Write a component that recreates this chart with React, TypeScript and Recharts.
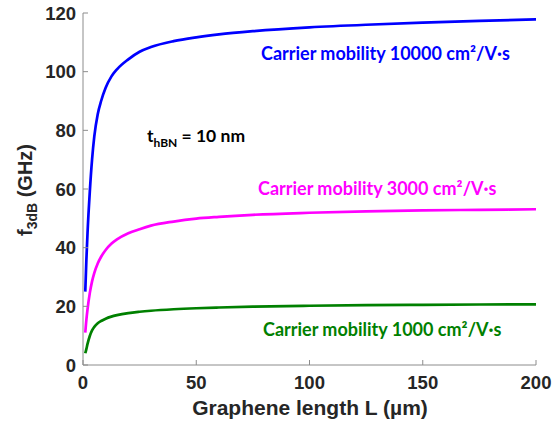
import { Line, LineChart, XAxis, YAxis } from "recharts"

// graphene length L (µm)
const lengths = [1, 1.5, 2, 3, 4, 5, 6.5, 8, 10, 12.5, 15, 20, 25, 30, 40, 50, 60, 75, 100, 125, 150, 175, 200]
// f3dB (GHz) for each carrier mobility
const mu10000 = [25, 36, 45, 59, 70, 78, 85.5, 90, 94.5, 98.3, 100.8, 104.2, 106.8, 108.4, 110.4, 111.7, 112.7, 113.8, 115.1, 116, 116.7, 117.3, 117.8]
const mu3000 = [11, 15.5, 19, 24.5, 28.5, 31.4, 34.6, 36.9, 39.2, 41.3, 42.8, 44.9, 46.3, 47.5, 48.9, 49.9, 50.5, 51.2, 51.9, 52.4, 52.7, 52.9, 53.1]
const mu1000 = [4, 5.5, 7.2, 9.9, 11.8, 13, 14.2, 15, 15.8, 16.5, 17, 17.7, 18.15, 18.5, 19, 19.35, 19.6, 19.9, 20.2, 20.4, 20.52, 20.62, 20.7]

const xTicks = [0, 50, 100, 150, 200]
const yTicks = [0, 20, 40, 60, 80, 100, 120]

const data = lengths.map((L, i) => ({ L, a: mu10000[i], b: mu3000[i], c: mu1000[i] }))

const AXIS = "#8c8c8c"
const INK = "#262626"
const ARIAL = { fontFamily: "'Liberation Sans', sans-serif", fontWeight: 700 }
const M = 8
const T = 5

const BottomTick = (p: any) => {
  const base = p.y - M
  return (
    <g>
      <line x1={p.x} x2={p.x} y1={base} y2={base - T} stroke={AXIS} />
      <text x={p.x} y={base + 24} textAnchor="middle" fill={INK} fontSize={18.5} style={ARIAL}>
        {p.payload.value}
      </text>
    </g>
  )
}

const LeftTick = (p: any) => {
  const base = p.x + M
  return (
    <g>
      <line x1={base} x2={base + T} y1={p.y} y2={p.y} stroke={AXIS} />
      <text x={base - 7} y={p.y + 6.5} textAnchor="end" fill={INK} fontSize={18.5} style={ARIAL}>
        {p.payload.value}
      </text>
    </g>
  )
}

const TopTick = (p: any) => {
  const base = p.y + M
  return <line x1={p.x} x2={p.x} y1={base} y2={base + T} stroke={AXIS} />
}

const RightTick = (p: any) => {
  const base = p.x - M
  return <line x1={base} x2={base - T} y1={p.y} y2={p.y} stroke={AXIS} />
}

export default function App() {
  return (
    <div style={{ position: "fixed", left: 0, top: 0, width: 553, height: 426, background: "#fff" }}>
      <LineChart width={553} height={426} data={data} margin={{ top: 13, right: 17, left: 0, bottom: 0 }}>
        <XAxis dataKey="L" type="number" domain={[0, 200]} ticks={xTicks} height={61} tickSize={0} tickMargin={M}
          tickLine={false} stroke={AXIS} tick={<BottomTick />} interval={0} />
        <XAxis xAxisId="top" orientation="top" type="number" domain={[0, 200]} ticks={xTicks} height={0}
          tickSize={0} tickMargin={M} tickLine={false} stroke={AXIS} tick={<TopTick />} allowDataOverflow interval={0} />
        <YAxis type="number" domain={[0, 120]} ticks={yTicks} width={83} tickSize={0} tickMargin={M}
          tickLine={false} stroke={AXIS} tick={<LeftTick />} interval={0} />
        <YAxis yAxisId="right" orientation="right" type="number" domain={[0, 120]} ticks={yTicks} width={0}
          tickSize={0} tickMargin={M} tickLine={false} stroke={AXIS} tick={<RightTick />} allowDataOverflow interval={0} />
        <Line type="monotone" dataKey="a" stroke="#0000ff" strokeWidth={2.7} dot={false} isAnimationActive={false} />
        <Line type="monotone" dataKey="b" stroke="#ff00ff" strokeWidth={2.7} dot={false} isAnimationActive={false} />
        <Line type="monotone" dataKey="c" stroke="#008000" strokeWidth={2.7} dot={false} isAnimationActive={false} />
      </LineChart>
      <svg width={553} height={426} style={{ position: "absolute", left: 0, top: 0, pointerEvents: "none" }}>
        <g style={{ fontFamily: "Lato, sans-serif", fontWeight: 700 }} fontSize={18}>
          <text x={261} y={60} fill="#0000ff">Carrier mobility 10000 cm²/V·s</text>
          <text x={258} y={195} fill="#ff00ff">Carrier mobility 3000 cm²/V·s</text>
          <text x={263} y={336} fill="#008000">Carrier mobility 1000 cm²/V·s</text>
        </g>
        <text x={147} y={142} fill="#000" fontSize={17.5} style={{ fontFamily: "Lato, sans-serif", fontWeight: 700 }}>
          t<tspan fontSize={12} dy={5}>hBN</tspan><tspan dy={-5}> = 10 nm</tspan>
        </text>
        <g style={ARIAL} fill={INK}>
          <text x={310} y={415} textAnchor="middle" fontSize={21}>Graphene length L (µm)</text>
          <text transform="translate(32,190) rotate(-90)" textAnchor="middle" fontSize={20}>
            f<tspan fontSize={14} dy={5}>3dB</tspan><tspan dy={-5}> (GHz)</tspan>
          </text>
        </g>
      </svg>
    </div>
  )
}
